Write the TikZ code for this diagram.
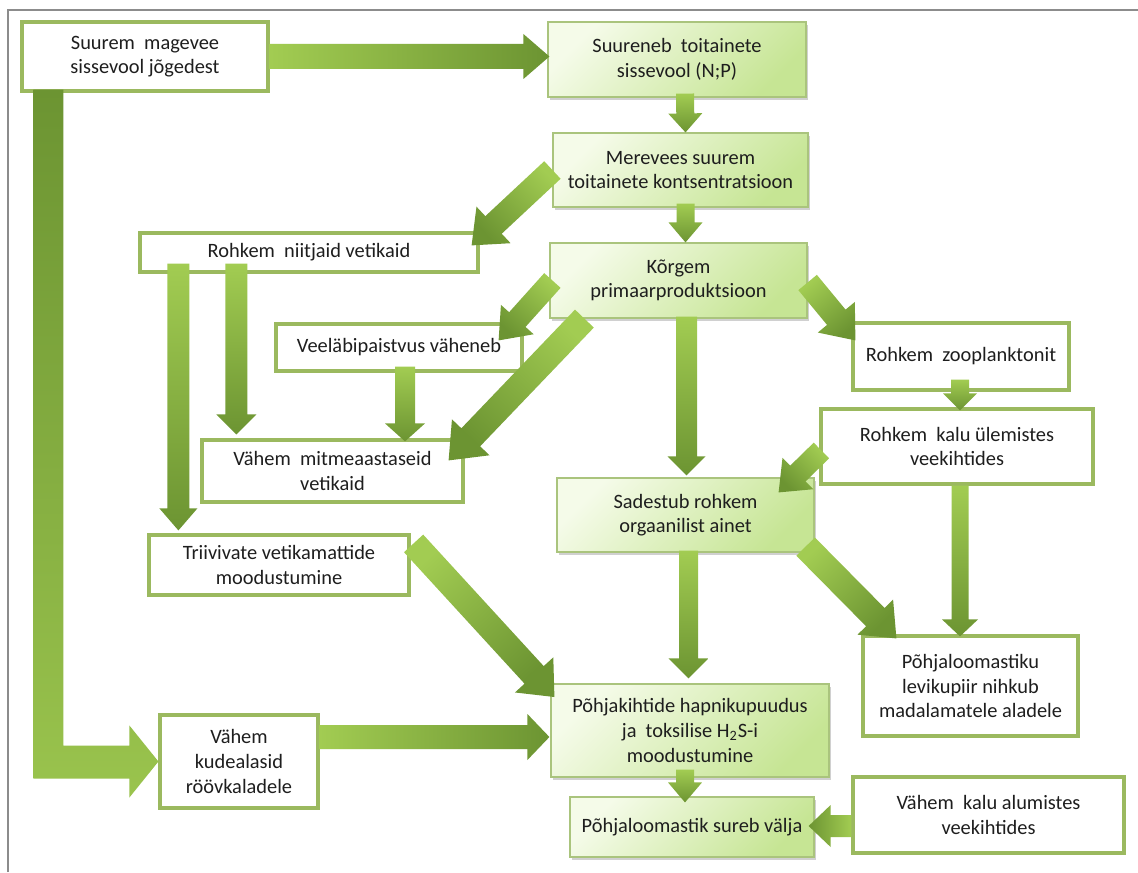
\documentclass[tikz,border=0pt]{standalone}
\usepackage{fontspec}
\setmainfont{Carlito}
\usetikzlibrary{calc,shadows}
\definecolor{arrL}{RGB}{162,204,82}
\definecolor{arrD}{RGB}{108,148,50}
\definecolor{wbord}{RGB}{155,185,95}
\definecolor{gtop}{RGB}{245,251,233}
\definecolor{gbot}{RGB}{198,229,148}
\definecolor{gbord}{RGB}{170,196,125}
\definecolor{txt}{RGB}{30,30,30}
\definecolor{framecol}{RGB}{140,140,140}

\newcommand\fatarrow[5]{% start, tip, shaft half-width, head half-width, head length
  \coordinate (fa-s) at (#1);
  \coordinate (fa-e) at (#2);
  \path let \p1=($(fa-e)-(fa-s)$), \n1={atan2(\y1,\x1)} in
    \pgfextra{\pgfmathsetmacro\tmpang{\n1-90}\xdef\faang{\tmpang}};
  \coordinate (fa-h) at ($(fa-e)!#5!(fa-s)$);
  \shade[top color=arrD, bottom color=arrL, shading angle=\faang]
    ($(fa-s)!#3!90:(fa-e)$) -- ($(fa-h)!#3!90:(fa-e)$) -- ($(fa-h)!#4!90:(fa-e)$)
    -- (fa-e) -- ($(fa-h)!#4!-90:(fa-e)$) -- ($(fa-h)!#3!-90:(fa-e)$)
    -- ($(fa-s)!#3!-90:(fa-e)$) -- cycle;
}

\tikzset{
  base/.style={inner sep=0pt, align=center, text=txt,
    font=\fontsize{10.2}{12.3}\selectfont},
  wbox/.style={base, draw=wbord, line width=1.6pt, fill=white},
  gbox/.style={base, draw=gbord, line width=0.6pt, top color=gtop, bottom color=gbot,
    shading angle=45,
    drop shadow={shadow xshift=1pt, shadow yshift=-1.3pt, opacity=0.3, fill=black!60}},
}

\begin{document}
\begin{tikzpicture}[x=0.5pt, y=-0.5pt]
\useasboundingbox (0,0) rectangle (1138,872);
\fill[white] (0,0) rectangle (1138,872);
\draw[framecol, line width=0.8pt] (8,872) -- (8,10) -- (1138,10);

% boxes
\node[wbox, minimum width=123pt, minimum height=34.5pt] (A) at (145,56.5)
  {Suurem\ \ magevee\\sissevool jõgedest};
\node[gbox, minimum width=129pt, minimum height=37.5pt] (B) at (677,59.5)
  {Suureneb\ \ toitainete\\sissevool (N;P)};
\node[gbox, minimum width=127.5pt, minimum height=37pt] (C) at (680.5,170)
  {Merevees suurem\\toitainete kontsentratsioon};
\node[wbox, minimum width=169pt, minimum height=19.5pt] (D) at (309,252.5)
  {Rohkem\ \ niitjaid vetikaid};
\node[gbox, minimum width=128.5pt, minimum height=37.5pt] (E) at (678.5,280.5)
  {Kõrgem\\primaarproduktsioon};
\node[wbox, minimum width=123pt, minimum height=23.5pt] (F) at (399,347.5)
  {Veeläbipaistvus väheneb};
\node[wbox, minimum width=108pt, minimum height=33.5pt] (G) at (961,356.5)
  {Rohkem\ \ zooplanktonit};
\node[wbox, minimum width=130.5pt, minimum height=31pt] (H) at (332.5,471)
  {Vähem\ \ mitmeaastaseid\\vetikaid};
\node[wbox, minimum width=136pt, minimum height=37.5pt] (I) at (957,446.5)
  {Rohkem\ \ kalu ülemistes\\veekihtides};
\node[gbox, minimum width=128.5pt, minimum height=37pt] (J) at (685.5,515)
  {Sadestub rohkem\\orgaanilist ainet};
\node[wbox, minimum width=130pt, minimum height=30pt] (K) at (279,565)
  {Triivivate vetikamattide\\moodustumine};
\node[wbox, minimum width=107.5pt, minimum height=50pt] (L) at (970.5,686)
  {Põhjaloomastiku\\levikupiir nihkub\\madalamatele aladele};
\node[gbox, minimum width=139pt, minimum height=46.5pt] (M) at (690,730.5)
  {Põhjakihtide hapnikupuudus\\ja\ \ toksilise H\textsubscript{2}S-i\\moodustumine};
\node[wbox, minimum width=79pt, minimum height=46.5pt] (N) at (239,761.5)
  {Vähem\\kudealasid\\röövkaladele};
\node[gbox, minimum width=122pt, minimum height=30pt] (O) at (692,827)
  {Põhjaloomastik sureb välja};
\node[wbox, minimum width=135.5pt, minimum height=38pt] (P) at (988.5,815)
  {Vähem\ \ kalu alumistes\\veekihtides};

% L-shaped arrow A -> N
\coordinate (lt) at ($(A.south west)+(28,-3)$);
\coordinate (lc) at (lt |- N.west);
\shade[top color=arrD, bottom color=arrL!85!arrD]
  ($(lt)+(-15,0)$) -- ($(lc)+(-15,17)$) -- ($(N.west)+(-29,17)$) -- ($(N.west)+(-29,36)$)
  -- (N.west) -- ($(N.west)+(-29,-36)$) -- ($(N.west)+(-29,-16)$) -- ($(lc)+(15,-16)$)
  -- ($(lt)+(15,0)$) -- cycle;

% fat arrows
\fatarrow{A.east}{$(B.west |- A.east)+(2,0)$}{6.25pt}{11.25pt}{13pt}
\fatarrow{$(B.south)+(8,-4)$}{$(C.north)+(5,0)$}{4.5pt}{8.5pt}{9.5pt}
\fatarrow{$(C.south)+(5,-4)$}{$(E.north)+(7,0)$}{4.5pt}{8.5pt}{10pt}
\fatarrow{$(E.south)+(8,-2)$}{$(J.north)+(1,-2)$}{5.25pt}{9.5pt}{9.5pt}
\fatarrow{$(J.south)+(3,-2)$}{$(M.north)+(-1.5,-5)$}{4.75pt}{10pt}{10pt}
\fatarrow{$(M.south)+(-5,-8)$}{$(O.north)+(-7,6)$}{4.5pt}{8.5pt}{10pt}
\fatarrow{C.west}{$(D.north east)+(-8,14)$}{6pt}{12.5pt}{15pt}
\fatarrow{$(E.west)+(3,0)$}{$(F.north east)+(-25,18)$}{5.5pt}{11pt}{14pt}
\fatarrow{$(E.south west)+(35,0)$}{$(H.north east)+(-16,22)$}{6.5pt}{13pt}{16pt}
\fatarrow{$(E.east)+(0,2)$}{$(G.north west)+(4,19)$}{6pt}{12pt}{15pt}
\fatarrow{$(G.south)+(-1,-12)$}{$(I.north)+(3,3)$}{4.5pt}{8.5pt}{8.5pt}
\fatarrow{$(I.west)+(2,4)$}{$(J.north east)+(-36,15)$}{5.5pt}{11pt}{13.5pt}
\fatarrow{$(I.south)+(3,0)$}{$(L.north)+(-10.5,2)$}{4.25pt}{9pt}{8.5pt}
\fatarrow{$(J.south east)+(-9,-6)$}{$(L.north west)+(35,4)$}{6.5pt}{12.5pt}{15pt}
\fatarrow{$(K.north east)+(3,10)$}{$(M.west)+(4,-33.5)$}{6.5pt}{13pt}{15pt}
\fatarrow{$(N.east)+(0,-24.5)$}{$(M.west)+(-1,6.5)$}{6pt}{11.5pt}{11pt}
\fatarrow{$(P.west)+(0,11)$}{$(O.east)+(-6,-1)$}{5.5pt}{10.5pt}{11pt}
\fatarrow{$(D.south west)+(40,-10)$}{$(K.north west)+(31,-3)$}{5.5pt}{9.5pt}{11pt}
\fatarrow{$(D.south west)+(98,-10)$}{$(H.north west)+(36,-4)$}{5.5pt}{10pt}{10pt}
\fatarrow{$(F.south)+(6,-6)$}{$(H.north)+(72.5,3)$}{5pt}{10pt}{9pt}
\end{tikzpicture}
\end{document}
